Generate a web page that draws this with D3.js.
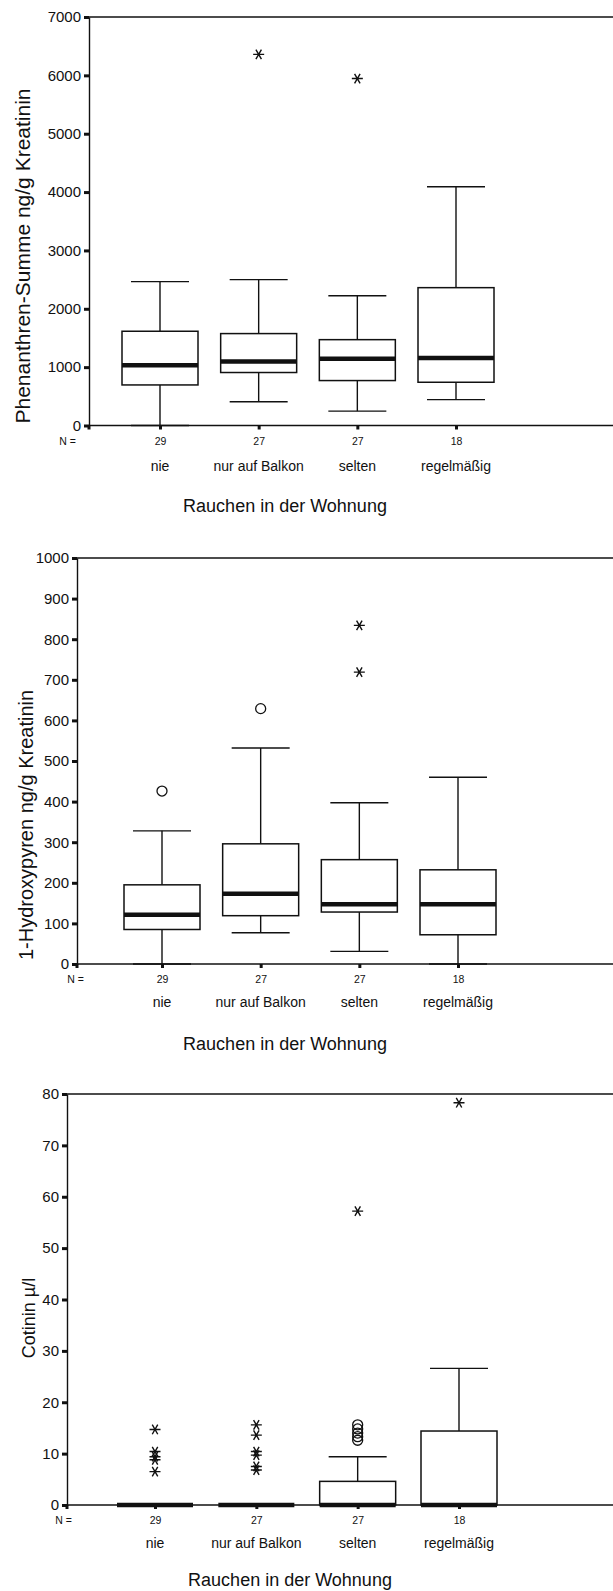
<!DOCTYPE html>
<html>
<head>
<meta charset="utf-8">
<script src="https://cdn.jsdelivr.net/npm/d3@7"></script>
<style>
  body { margin: 0; background: #fff; }
  svg { display: block; font-family: "Liberation Sans", Arial, sans-serif; }
</style>
</head>
<body>
<div id="chart"></div>
<script>
// groups and counts (same for all three panels)
const categories = ["nie", "nur auf Balkon", "selten", "regelmäßig"];
const groupN = [29, 27, 27, 18];
const xTitle = "Rauchen in der Wohnung";

// Phenanthren-Summe ng/g Kreatinin
const phenTicks = [0, 1000, 2000, 3000, 4000, 5000, 6000, 7000];
const phenLow = [0, 408, 247, 443];
const phenQ1 = [695, 908, 770, 741];
const phenMedian = [1034, 1098, 1144, 1155];
const phenQ3 = [1615, 1575, 1471, 2362];
const phenHigh = [2466, 2500, 2224, 4090];
const phenCircles = [[], [], [], []];
const phenStars = [[], [6360], [5945], []];

// 1-Hydroxypyren ng/g Kreatinin
const hydTicks = [0, 100, 200, 300, 400, 500, 600, 700, 800, 900, 1000];
const hydLow = [0, 77, 31, 0];
const hydQ1 = [85, 119, 128, 72];
const hydMedian = [121, 173, 147, 147];
const hydQ3 = [195, 296, 257, 232];
const hydHigh = [328, 532, 397, 460];
const hydCircles = [[426], [629], [], []];
const hydStars = [[], [], [834, 719], []];

// Cotinin µ/l
const cotTicks = [0, 10, 20, 30, 40, 50, 60, 70, 80];
const cotLow = [0, 0, 0, 0];
const cotQ1 = [0, 0, 0, 0];
const cotMedian = [0, 0, 0, 0];
const cotQ3 = [0, 0, 4.6, 14.4];
const cotHigh = [0, 0, 9.4, 26.6];
const cotCircles = [[], [], [15.6, 14.8, 14.0, 13.3, 12.6], []];
const cotStars = [[14.7, 10.4, 9.4, 8.8, 6.5], [15.6, 13.6, 10.4, 9.7, 7.5, 6.8], [57.2], [78.3]];

const width = 613;
const height = 1591;
const boxWidth = 76;
const capWidth = 58;

const svg = d3
  .select("#chart")
  .append("svg")
  .attr("width", width)
  .attr("height", height)
  .attr("viewBox", [0, 0, width, height]);

function rows(low, q1, med, q3, high, circles, stars) {
  return categories.map((c, i) => ({
    key: c,
    low: low[i],
    q1: q1[i],
    med: med[i],
    q3: q3[i],
    high: high[i],
    circles: circles[i],
    stars: stars[i],
  }));
}

// asterisk marker: horizontal bar plus two diagonals
function starPath(cx, cy, r) {
  const dx = r * Math.cos(Math.PI / 3);
  const dy = r * Math.sin(Math.PI / 3);
  return `M${cx - r},${cy}L${cx + r},${cy}` +
    `M${cx - dx},${cy - dy}L${cx + dx},${cy + dy}` +
    `M${cx - dx},${cy + dy}L${cx + dx},${cy - dy}`;
}

function drawPanel(p) {
  const g = svg.append("g");

  const y = d3.scaleLinear().domain(p.domain).range([p.bottom, p.top]);
  const x = d3.scalePoint().domain(categories).range(p.xRange);

  // frame: top line and bottom line run off the page on the right
  g.append("line")
    .attr("x1", p.axisX).attr("x2", width + 10)
    .attr("y1", p.top).attr("y2", p.top)
    .attr("stroke", "#111").attr("stroke-width", 1.4);
  g.append("line")
    .attr("x1", p.axisX).attr("x2", width + 10)
    .attr("y1", p.bottom).attr("y2", p.bottom)
    .attr("stroke", "#111").attr("stroke-width", 1.4);

  // y axis
  g.append("g")
    .attr("transform", `translate(${p.axisX},0)`)
    .call(d3.axisLeft(y).tickValues(p.ticks).tickFormat(d3.format("d"))
      .tickSize(5).tickSizeOuter(0).tickPadding(3))
    .call((a) => a.select(".domain").attr("stroke", "#111").attr("stroke-width", 1.4))
    .call((a) => a.selectAll(".tick line").attr("stroke", "#111").attr("stroke-width", 3))
    .call((a) => a.selectAll(".tick text")
      .attr("fill", "#111")
      .attr("font-size", 15)
      .attr("font-family", "'Liberation Sans', Arial, sans-serif"));

  // x axis ticks with N labels
  g.append("g")
    .attr("transform", `translate(0,${p.bottom})`)
    .call(d3.axisBottom(x).tickSize(4).tickPadding(8).tickFormat((d, i) => groupN[i]))
    .call((a) => a.select(".domain").remove())
    .call((a) => a.selectAll(".tick line").attr("stroke", "#111").attr("stroke-width", 3))
    .call((a) => a.selectAll(".tick text")
      .attr("fill", "#111")
      .attr("font-size", 10.5)
      .attr("font-family", "'Liberation Sans', Arial, sans-serif"));

  // small tick at the corner
  g.append("line")
    .attr("x1", p.axisX).attr("x2", p.axisX)
    .attr("y1", p.bottom).attr("y2", p.bottom + 4)
    .attr("stroke", "#111").attr("stroke-width", 3);

  g.append("text")
    .attr("x", p.nX)
    .attr("y", p.bottom + 19)
    .attr("text-anchor", "end")
    .attr("font-size", 10.5)
    .attr("fill", "#111")
    .text("N =");

  // category labels
  g.append("g")
    .selectAll("text")
    .data(categories)
    .join("text")
    .attr("x", (d) => x(d))
    .attr("y", p.catY)
    .attr("text-anchor", "middle")
    .attr("font-size", 14)
    .attr("fill", "#111")
    .text((d) => d);

  // axis titles
  g.append("text")
    .attr("x", p.titleX)
    .attr("y", p.titleY)
    .attr("text-anchor", "middle")
    .attr("font-size", 18)
    .attr("fill", "#111")
    .text(xTitle);

  g.append("text")
    .attr("transform", `translate(${p.yTitleX},${p.yTitleY}) rotate(-90)`)
    .attr("text-anchor", "middle")
    .attr("font-size", p.yTitleSize)
    .attr("fill", "#111")
    .text(p.yTitle);

  // boxes
  const box = g.append("g")
    .selectAll("g")
    .data(p.data)
    .join("g")
    .attr("stroke", "#111")
    .attr("fill", "none");

  box.append("line")
    .attr("x1", (d) => x(d.key)).attr("x2", (d) => x(d.key))
    .attr("y1", (d) => y(d.low)).attr("y2", (d) => y(d.q1))
    .attr("stroke-width", 1.4);
  box.append("line")
    .attr("x1", (d) => x(d.key)).attr("x2", (d) => x(d.key))
    .attr("y1", (d) => y(d.q3)).attr("y2", (d) => y(d.high))
    .attr("stroke-width", 1.4);
  box.append("line")
    .attr("x1", (d) => x(d.key) - capWidth / 2).attr("x2", (d) => x(d.key) + capWidth / 2)
    .attr("y1", (d) => y(d.low)).attr("y2", (d) => y(d.low))
    .attr("stroke-width", 1.4);
  box.append("line")
    .attr("x1", (d) => x(d.key) - capWidth / 2).attr("x2", (d) => x(d.key) + capWidth / 2)
    .attr("y1", (d) => y(d.high)).attr("y2", (d) => y(d.high))
    .attr("stroke-width", 1.4);
  box.append("rect")
    .attr("x", (d) => x(d.key) - boxWidth / 2)
    .attr("width", boxWidth)
    .attr("y", (d) => y(d.q3))
    .attr("height", (d) => y(d.q1) - y(d.q3))
    .attr("fill", "#fff")
    .attr("stroke-width", 1.5);
  box.append("line")
    .attr("x1", (d) => x(d.key) - boxWidth / 2).attr("x2", (d) => x(d.key) + boxWidth / 2)
    .attr("y1", (d) => y(d.med)).attr("y2", (d) => y(d.med))
    .attr("stroke-width", 4.5);

  // outliers (circles) and extremes (stars)
  box.selectAll("circle")
    .data((d) => d.circles.map((v) => ({ key: d.key, v })))
    .join("circle")
    .attr("cx", (d) => x(d.key))
    .attr("cy", (d) => y(d.v))
    .attr("r", 5)
    .attr("stroke-width", 1.3);
  box.selectAll("path.star")
    .data((d) => d.stars.map((v) => ({ key: d.key, v })))
    .join("path")
    .attr("class", "star")
    .attr("d", (d) => starPath(x(d.key), y(d.v), 5.5))
    .attr("stroke-width", 1.4);
}

drawPanel({
  data: rows(phenLow, phenQ1, phenMedian, phenQ3, phenHigh, phenCircles, phenStars),
  ticks: phenTicks,
  domain: [0, 7000],
  axisX: 89, top: 17, bottom: 425.5, xRange: [160, 456],
  nX: 76, catY: 471, titleX: 285, titleY: 512,
  yTitle: "Phenanthren-Summe ng/g Kreatinin", yTitleX: 29.5, yTitleY: 256, yTitleSize: 21,
});

drawPanel({
  data: rows(hydLow, hydQ1, hydMedian, hydQ3, hydHigh, hydCircles, hydStars),
  ticks: hydTicks,
  domain: [0, 1000],
  axisX: 77, top: 558, bottom: 964, xRange: [162, 458],
  nX: 84, catY: 1007, titleX: 285, titleY: 1050,
  yTitle: "1-Hydroxypyren ng/g Kreatinin", yTitleX: 33, yTitleY: 825, yTitleSize: 20,
});

drawPanel({
  data: rows(cotLow, cotQ1, cotMedian, cotQ3, cotHigh, cotCircles, cotStars),
  ticks: cotTicks,
  domain: [0, 80],
  axisX: 67, top: 1094, bottom: 1505, xRange: [155, 459],
  nX: 72, catY: 1548, titleX: 290, titleY: 1586,
  yTitle: "Cotinin µ/l", yTitleX: 35, yTitleY: 1318, yTitleSize: 18,
});
</script>
</body>
</html>
